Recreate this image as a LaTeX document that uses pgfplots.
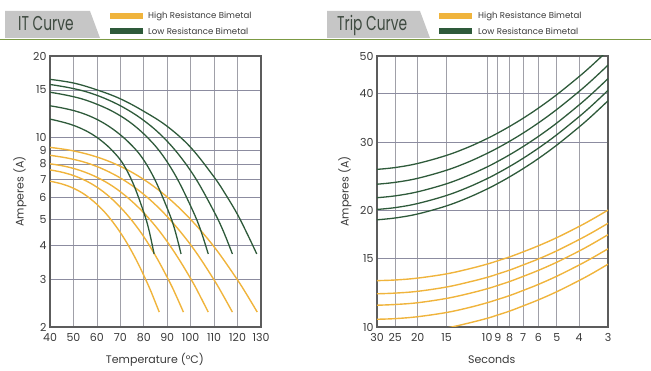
\documentclass[border=0pt]{standalone}
\usepackage{fontspec}
\setmainfont{Poppins}
\usepackage{pgfplots}
\pgfplotsset{compat=1.18}
\definecolor{hr}{HTML}{F0B43C}
\definecolor{lr}{HTML}{2E5A3A}
\definecolor{gridc}{HTML}{A0A0A8}
\definecolor{gridh}{HTML}{8C8CA0}
\definecolor{framec}{HTML}{5C5C5C}
\definecolor{tabc}{HTML}{C6C6C6}
\definecolor{barc}{HTML}{7C9A44}
\definecolor{titlec}{HTML}{3E4A40}
\definecolor{txt}{HTML}{3A3A3A}
\pgfplotsset{
  chart/.style={
    scale only axis, anchor=south west,
    axis line style={framec, line width=1.3pt},
    grid=major,
    x grid style={gridc, line width=0.6pt},
    y grid style={gridh, line width=0.6pt},
    major tick length=0pt, minor tick num=0,
    tick label style={font=\fontsize{11}{12}\selectfont, text=txt},
    xticklabel style={yshift=-3pt},
    label style={font=\fontsize{11}{12}\selectfont, text=txt},
    /pgf/number format/assume math mode=true,
    clip=true,
  },
  hrl/.style={hr, line width=1.4pt, smooth, tension=0.6, no markers},
  lrl/.style={lr, line width=1.3pt, smooth, tension=0.6, no markers},
}
\begin{document}
\begin{tikzpicture}[x=1pt,y=1pt]
\useasboundingbox (0,0) rectangle (651,371);
% header tabs
\fill[tabc] (5,333) -- (5,360) -- (90,360) -- (100,333) -- cycle;
\fill[tabc] (327,333) -- (327,360) -- (420,360) -- (430,333) -- cycle;
\draw[barc, line width=1.5pt] (0,331.5) -- (651,331.5);
\node[anchor=base west, inner sep=0, text=titlec, font=\fontsize{20}{20}\selectfont] at (18,340) {\scalebox{0.69}[1]{IT Curve}};
\node[anchor=base west, inner sep=0, text=titlec, font=\fontsize{20}{20}\selectfont] at (337,340) {\scalebox{0.69}[1]{Trip Curve}};
% legends
\fill[hr] (110,352.3) rectangle (143,358.3);
\fill[lr] (110,337.3) rectangle (143,342.7);
\node[anchor=base west, inner sep=0, text=txt, font=\fontsize{8.6}{9}\selectfont] at (148,352.3) {High Resistance Bimetal};
\node[anchor=base west, inner sep=0, text=txt, font=\fontsize{8.6}{9}\selectfont] at (148,336.8) {Low Resistance Bimetal};
\fill[hr] (439,352.3) rectangle (472,358.3);
\fill[lr] (439,337.3) rectangle (472,342.7);
\node[anchor=base west, inner sep=0, text=txt, font=\fontsize{8.6}{9}\selectfont] at (478,352.3) {High Resistance Bimetal};
\node[anchor=base west, inner sep=0, text=txt, font=\fontsize{8.6}{9}\selectfont] at (478,336.8) {Low Resistance Bimetal};

% ---------------- IT Curve ----------------
\begin{axis}[chart, at={(50pt,44pt)}, width=211pt, height=271pt,
  xmin=40, xmax=130, ymode=log, ymin=2, ymax=20,
  xtick={40,50,60,70,80,90,100,110,120,130},
  ytick={2,3,4,5,6,7,8,9,10,15,20},
  yticklabels={2,3,4,5,6,7,8,9,10,15,20},
  xlabel={Temperature (°C)}, ylabel={Amperes (A)},
  xlabel style={at={(axis description cs:0.497,-0.12)}, anchor=center},
  ylabel style={at={(axis description cs:-0.142,0.5)}, anchor=center, rotate=0},
]
% High resistance (orange)
\addplot[hrl] coordinates {(40,6.90)(44.66,6.76)(49.32,6.54)(53.98,6.23)(58.64,5.81)(63.3,5.31)(67.96,4.73)(72.62,4.11)(77.28,3.47)(81.94,2.85)(84.27,2.55)(86.6,2.27)};
\addplot[hrl] coordinates {(40,7.60)(45.69,7.43)(51.38,7.17)(57.07,6.80)(62.76,6.31)(68.45,5.71)(74.14,5.04)(79.83,4.33)(85.52,3.60)(91.21,2.91)(94.06,2.58)(96.9,2.27)};
\addplot[hrl] coordinates {(40,8.00)(46.75,7.82)(53.5,7.53)(60.25,7.12)(67,6.59)(73.75,5.94)(80.5,5.22)(87.25,4.45)(94,3.67)(100.75,2.94)(104.13,2.59)(107.5,2.27)};
\addplot[hrl] coordinates {(40,8.60)(47.78,8.39)(55.56,8.07)(63.34,7.60)(71.12,7.00)(78.9,6.28)(86.68,5.47)(94.46,4.62)(102.24,3.78)(110.02,2.98)(113.91,2.61)(117.8,2.27)};
\addplot[hrl] coordinates {(40,9.20)(48.84,8.97)(57.68,8.60)(66.52,8.08)(75.36,7.41)(84.2,6.61)(93.04,5.72)(101.88,4.79)(110.72,3.88)(119.56,3.02)(123.98,2.63)(128.4,2.27)};
% Low resistance (green)
\addplot[lrl] coordinates {(40,11.70)(44.44,11.46)(48.88,11.18)(53.32,10.80)(57.76,10.31)(62.2,9.69)(66.64,8.94)(71.08,8.02)(75.52,6.75)(79.96,5.31)(82.18,4.57)(84.4,3.72)};
\addplot[lrl] coordinates {(40,13.10)(45.59,12.84)(51.18,12.50)(56.77,12.02)(62.36,11.38)(67.95,10.57)(73.54,9.61)(79.13,8.47)(84.72,7.00)(90.31,5.40)(93.11,4.61)(95.9,3.72)};
\addplot[lrl] coordinates {(40,14.70)(46.75,14.35)(53.5,13.90)(60.25,13.25)(67,12.45)(73.75,11.45)(80.5,10.22)(87.25,8.79)(94,7.12)(100.75,5.41)(104.13,4.59)(107.5,3.72)};
\addplot[lrl] coordinates {(40,15.70)(47.78,15.30)(55.56,14.75)(63.34,13.95)(71.12,12.95)(78.9,11.75)(86.68,10.35)(94.46,8.75)(102.24,7.04)(110.02,5.32)(113.91,4.52)(117.8,3.72)};
\addplot[lrl] coordinates {(40,16.40)(50,15.90)(60,15.00)(70,13.90)(80,12.50)(90,11.00)(100,9.20)(110,7.15)(115,6.15)(120,5.20)(124.2,4.40)(128.2,3.72)};
\end{axis}

% ---------------- Trip Curve ----------------
\begin{axis}[chart, at={(377pt,44pt)}, width=231pt, height=271pt,
  xmode=log, x dir=reverse, xmin=3, xmax=30,
  ymode=log, ymin=10, ymax=50,
  xtick={3,4,5,6,7,8,9,10,15,20,25,30},
  xticklabels={3,4,5,6,7,8,9,10,15,20,25,30},
  ytick={10,15,20,30,40,50},
  yticklabels={10,15,20,30,40,50},
  xlabel={Seconds}, ylabel={Amperes (A)},
  xlabel style={at={(axis description cs:0.497,-0.12)}, anchor=center},
  ylabel style={at={(axis description cs:-0.139,0.5)}, anchor=center, rotate=0},
]
% High resistance (orange)
\addplot[hrl] coordinates {(30,9.55)(25,9.59)(20,9.69)(15,9.94)(12,10.24)(10,10.53)(9,10.74)(8,10.99)(7,11.33)(6,11.75)(5,12.33)(4,13.18)(3.5,13.76)(3,14.52)};
\addplot[hrl] coordinates {(30,10.47)(25,10.51)(20,10.63)(15,10.90)(12,11.22)(10,11.55)(9,11.78)(8,12.05)(7,12.42)(6,12.88)(5,13.52)(4,14.45)(3.5,15.09)(3,15.91)};
\addplot[hrl] coordinates {(30,11.38)(25,11.43)(20,11.55)(15,11.85)(12,12.20)(10,12.55)(9,12.80)(8,13.10)(7,13.50)(6,14.00)(5,14.69)(4,15.70)(3.5,16.40)(3,17.30)};
\addplot[hrl] coordinates {(30,12.18)(25,12.23)(20,12.36)(15,12.68)(12,13.06)(10,13.43)(9,13.70)(8,14.02)(7,14.45)(6,14.98)(5,15.72)(4,16.81)(3.5,17.55)(3,18.51)};
\addplot[hrl] coordinates {(30,13.17)(25,13.22)(20,13.37)(15,13.71)(12,14.12)(10,14.53)(9,14.82)(8,15.16)(7,15.62)(6,16.20)(5,17.00)(4,18.17)(3.5,18.98)(3,20.02)};
% Low resistance (green)
\addplot[lrl] coordinates {(30,18.9)(25,19.11)(20,19.57)(15,20.53)(12,21.60)(10,22.70)(9,23.45)(8,24.39)(7,25.60)(6,27.20)(5,29.45)(4,32.80)(3.5,35.17)(3,38.32)};
\addplot[lrl] coordinates {(30,20.1)(25,20.32)(20,20.82)(15,21.84)(12,22.97)(10,24.14)(9,24.94)(8,25.94)(7,27.22)(6,28.93)(5,31.32)(4,34.88)(3.5,37.40)(3,40.76)};
\addplot[lrl] coordinates {(30,21.55)(25,21.79)(20,22.32)(15,23.41)(12,24.63)(10,25.88)(9,26.74)(8,27.81)(7,29.19)(6,31.02)(5,33.58)(4,37.40)(3.5,40.10)(3,43.70)};
\addplot[lrl] coordinates {(30,23.35)(25,23.61)(20,24.18)(15,25.37)(12,26.68)(10,28.05)(9,28.97)(8,30.13)(7,31.62)(6,33.61)(5,36.39)(4,40.52)(3.5,43.45)(3,47.35)};
\addplot[lrl] coordinates {(30,25.5)(25,25.78)(20,26.41)(15,27.71)(12,29.14)(10,30.63)(9,31.64)(8,32.91)(7,34.53)(6,36.70)(5,39.74)(4,44.25)(3.5,47.45)(3,51.71)};
\end{axis}
\end{tikzpicture}
\end{document}
